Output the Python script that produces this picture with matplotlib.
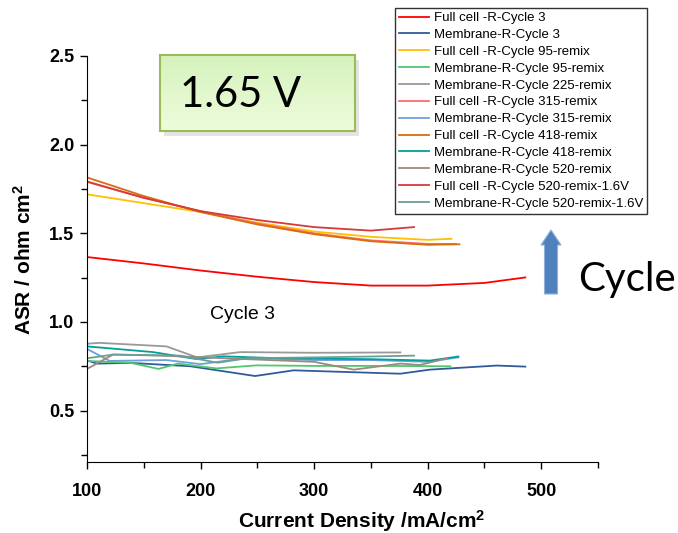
import numpy as np
import matplotlib
matplotlib.use("Agg")
import matplotlib.pyplot as plt
from matplotlib import patches
from matplotlib.ticker import MultipleLocator

plt.rcParams['font.family'] = ['Liberation Sans', 'DejaVu Sans']
plt.rcParams['mathtext.fontset'] = 'custom'
plt.rcParams['mathtext.rm'] = 'Liberation Sans'
plt.rcParams['mathtext.bf'] = 'Liberation Sans:bold'

# series: (label, color, x, y)
labels = [
    "Full cell -R-Cycle 3",
    "Membrane-R-Cycle 3",
    "Full cell -R-Cycle 95-remix",
    "Membrane-R-Cycle 95-remix",
    "Membrane-R-Cycle 225-remix",
    "Full cell -R-Cycle 315-remix",
    "Membrane-R-Cycle 315-remix",
    "Full cell -R-Cycle 418-remix",
    "Membrane-R-Cycle 418-remix",
    "Membrane-R-Cycle 520-remix",
    "Full cell -R-Cycle 520-remix-1.6V",
    "Membrane-R-Cycle 520-remix-1.6V",
]
colors = ['#ff0000', '#2e5c9a', '#ffc000', '#4fc86e', '#999999', '#ff6b6b',
          '#6fa0dc', '#d86c0c', '#00a09a', '#9c8a7c', '#d63a3a', '#6b9e9b']

fc3_x = [100, 150, 200, 250, 300, 350, 400, 450, 486]
fc3_y = [1.366, 1.33, 1.29, 1.255, 1.225, 1.205, 1.205, 1.22, 1.251]
m3_x = [100, 109, 138, 191, 248, 282, 376, 402, 461, 486]
m3_y = [0.783, 0.765, 0.769, 0.75, 0.695, 0.727, 0.708, 0.731, 0.754, 0.748]
fc95_x = [100, 150, 200, 250, 300, 350, 400, 421]
fc95_y = [1.72, 1.67, 1.62, 1.56, 1.51, 1.48, 1.463, 1.469]
m95_x = [100, 138, 163, 180, 214, 249, 300, 350, 420]
m95_y = [0.78, 0.77, 0.735, 0.765, 0.738, 0.755, 0.752, 0.752, 0.75]
m225_x = [100, 111, 170, 197, 235, 300, 376]
m225_y = [0.877, 0.882, 0.862, 0.8, 0.83, 0.826, 0.828]
fc315_x = [100, 150, 200, 250, 300, 350, 400, 425]
fc315_y = [1.79, 1.70, 1.625, 1.555, 1.50, 1.46, 1.44, 1.44]
m315_x = [100, 120, 170, 200, 241, 300, 350, 400, 427]
m315_y = [0.848, 0.78, 0.785, 0.762, 0.797, 0.785, 0.785, 0.775, 0.8]
fc418_x = [100, 150, 200, 250, 300, 350, 400, 428]
fc418_y = [1.815, 1.71, 1.62, 1.55, 1.495, 1.455, 1.435, 1.438]
m418_x = [100, 158, 197, 220, 270, 350, 402, 427]
m418_y = [0.862, 0.83, 0.79, 0.806, 0.795, 0.79, 0.782, 0.805]
m520_x = [100, 123, 165, 241, 300, 335, 376, 393, 417]
m520_y = [0.735, 0.816, 0.81, 0.79, 0.775, 0.731, 0.765, 0.757, 0.795]
fc520v_x = [100, 150, 200, 250, 300, 350, 388]
fc520v_y = [1.792, 1.70, 1.625, 1.575, 1.535, 1.515, 1.535]
m520v_x = [100, 123, 182, 215, 241, 300, 350, 388]
m520v_y = [0.795, 0.816, 0.81, 0.77, 0.795, 0.8, 0.805, 0.81]

xs = [fc3_x, m3_x, fc95_x, m95_x, m225_x, fc315_x, m315_x, fc418_x, m418_x, m520_x, fc520v_x, m520v_x]
ys = [fc3_y, m3_y, fc95_y, m95_y, m225_y, fc315_y, m315_y, fc418_y, m418_y, m520_y, fc520v_y, m520v_y]

W, H = 678, 533
fig = plt.figure(figsize=(W / 100, H / 100), dpi=100)
ax = fig.add_axes([87 / W, 1 - 462 / H, (598 - 87) / W, (462 - 56) / H])

for lab, c, x, y in zip(labels, colors, xs, ys):
    ax.plot(x, y, color=c, lw=1.3, label=lab)

ax.set_xlim(100, 550)
ax.set_ylim(0.21, 2.5)
ax.xaxis.set_major_locator(MultipleLocator(100))
ax.xaxis.set_minor_locator(MultipleLocator(50))
ax.yaxis.set_minor_locator(MultipleLocator(0.25))
ax.set_yticks([0.5, 1.0, 1.5, 2.0, 2.5])
ax.spines['top'].set_visible(False)
ax.spines['right'].set_visible(False)
ax.tick_params(which='major', direction='out', length=5, width=1)
ax.tick_params(which='minor', direction='out', length=4, width=1)
ax.tick_params(axis='x', pad=10)
ax.tick_params(axis='y', pad=4)
for t in ax.get_xticklabels() + ax.get_yticklabels():
    t.set_fontweight('bold')
    t.set_fontsize(13)
ax.set_xlabel(r"Current Density /mA/$\mathbf{cm^2}$", fontsize=15, fontweight='bold')
ax.set_ylabel(r"ASR / ohm $\mathbf{cm^2}$", fontsize=15, fontweight='bold')
ax.xaxis.label.set_va('center')
ax.yaxis.label.set_va('center')
ax.xaxis.set_label_coords((362 - 87) / 511, -(521 - 462) / 406)
ax.yaxis.set_label_coords(-(87 - 24) / 511, 0.5)

ax.text(237, 1.04, "Cycle 3", fontsize=14, ha='center', va='center')

leg = fig.legend(loc='upper left', bbox_to_anchor=(395 / W, 1 - 8 / H), fontsize=9.5,
                 frameon=True, fancybox=False, edgecolor='#333333', framealpha=1,
                 labelspacing=0.35, handlelength=2.3, handletextpad=0.35,
                 borderpad=0.3, borderaxespad=0)
leg.get_frame().set_linewidth(1.0)

# "1.65 V" green box with shadow and gradient
sh = patches.Rectangle((164 / W, 1 - 136 / H), 195 / W, 76 / H, transform=fig.transFigure,
                       facecolor='#e4e4e4', edgecolor='none', zorder=1)
fig.add_artist(sh)
bax = fig.add_axes([160 / W, 1 - 131 / H, 195 / W, 76 / H])
bax.set_zorder(3)
grad = np.linspace(0, 1, 50).reshape(-1, 1)
top = np.array([0.84, 0.95, 0.74])
bot = np.array([0.93, 0.99, 0.86])
img = top + (bot - top) * grad[:, :, None]
bax.imshow(img, aspect='auto', extent=[0, 1, 0, 1], origin='upper')
bax.set_xticks([])
bax.set_yticks([])
for s in bax.spines.values():
    s.set_color('#9bbb59')
    s.set_linewidth(1.5)
bax.text(0.1, 0.48, "1.65 V", fontsize=30, family='Lato', ha='left', va='center',
         color='black', transform=bax.transAxes)

# blue arrow and "Cycle"
arr = patches.FancyArrow(551 / W, 1 - 294 / H, 0, (294 - 230) / H, width=13 / W,
                         head_width=20 / W, head_length=15 / H, length_includes_head=True,
                         transform=fig.transFigure, facecolor='#4f81bd', edgecolor='#8fb0dc',
                         lw=0.8)
fig.add_artist(arr)
fig.text(578 / W, 1 - 279 / H, "Cycle", fontsize=29, family='Lato', ha='left', va='center')

fig.savefig("out.png", dpi=100)
